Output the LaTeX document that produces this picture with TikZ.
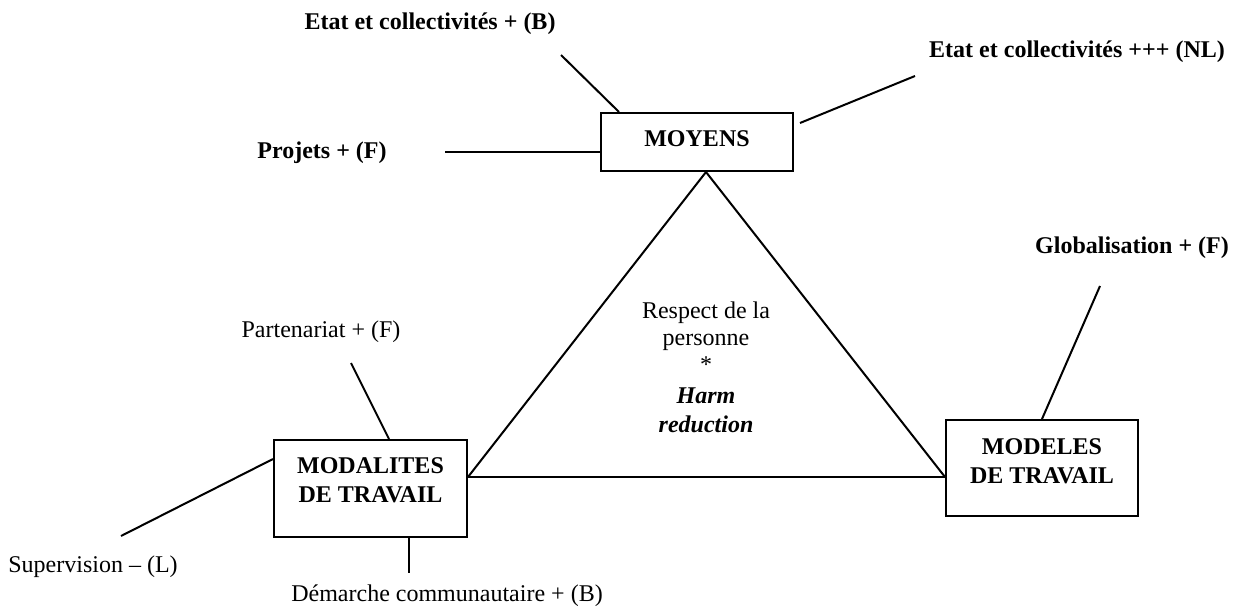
\documentclass[tikz,border=0pt]{standalone}
\usepackage{fontspec}
\setmainfont{Liberation Serif}
\newcommand{\twelvept}{\fontsize{12}{13.5}\selectfont}
\tikzset{
  lblb/.style={font=\twelvept\bfseries, anchor=base, inner sep=0pt},
  lblr/.style={font=\twelvept, anchor=base, inner sep=0pt},
  boxnode/.style={draw, line width=1pt, inner sep=0pt, font=\fontsize{12}{14.5}\selectfont\bfseries},
  conn/.style={line width=1pt},
}
\begin{document}
\begin{tikzpicture}[x=0.5pt, y=-0.5pt]
  \useasboundingbox (0,0) rectangle (1237,615);

  % boxes
  \node[boxnode] (moyens) at (697,142)
    {\parbox[c][29pt][t]{96pt}{\centering\rule{0pt}{17pt}MOYENS}};
  \node[boxnode] (modalites) at (370.5,488.5)
    {\parbox[c][48.5pt][t]{96.5pt}{\centering\rule{0pt}{16.5pt}MODALITES\\DE TRAVAIL}};
  \node[boxnode] (modeles) at (1042,468)
    {\parbox[c][48pt][t]{96pt}{\centering\rule{0pt}{17pt}MODELES\\DE TRAVAIL}};

  % centre text
  \node[anchor=north, align=center, inner sep=0pt, font=\twelvept] (centre) at (706,301)
    {Respect de la\\personne\\*\\[2pt]\textbf{\textit{Harm}}\\[1pt]\textbf{\textit{reduction}}};

  % labels
  \node[lblb] (etatb) at (430,30) {Etat et collectivités + (B)};
  \node[lblb] (etatnl) at (1077,58) {Etat et collectivités +++ (NL)};
  \node[lblb] (projets) at (322,158) {Projets + (F)};
  \node[lblb] (global) at (1132,253) {Globalisation + (F)};
  \node[lblr] (parten) at (321,337) {Partenariat + (F)};
  \node[lblr] (superv) at (93,572) {Supervision – (L)};
  \node[lblr] (demarche) at (447,601) {Démarche communautaire + (B)};

  % free ends of connectors
  \coordinate (cEtatB) at (561,55);
  \coordinate (cEtatNL) at (915,76);
  \coordinate (cProjets) at (445,152);
  \coordinate (cGlobal) at (1100,286);
  \coordinate (cParten) at (351,363);
  \coordinate (cSuperv) at (121,536);
  \coordinate (cDemarche) at (409,573);

  % triangle
  \draw[conn] ([xshift=4.5pt]moyens.south) -- ([yshift=5.75pt]modalites.east);
  \draw[conn] ([xshift=4.5pt]moyens.south) -- ([yshift=-4.5pt]modeles.west);
  \draw[conn] ([yshift=5.75pt]modalites.east) -- ([yshift=-4.5pt]modeles.west);

  % connectors
  \draw[conn] (cEtatB) -- ([xshift=-39pt]moyens.north);
  \draw[conn] (cEtatNL) -- ([xshift=3pt,yshift=9.5pt]moyens.east);
  \draw[conn] (cProjets) -- ([yshift=-5pt]moyens.west);
  \draw[conn] (cGlobal) -- (modeles.north);
  \draw[conn] (cParten) -- ([xshift=9.25pt]modalites.north);
  \draw[conn] (cSuperv) -- ([yshift=14.75pt]modalites.west);
  \draw[conn] ([xshift=19.25pt]modalites.south) -- (cDemarche);
\end{tikzpicture}
\end{document}
